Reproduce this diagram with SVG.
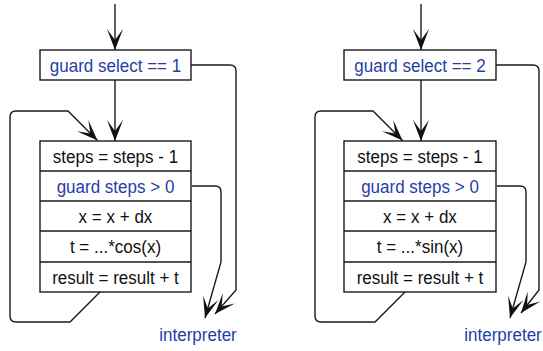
<svg xmlns="http://www.w3.org/2000/svg" width="543" height="351" viewBox="0 0 543 351">
  <style>
    .box { fill: #ffffff; stroke: #1a1a1a; stroke-width: 1.4; }
    .sep { stroke: #1a1a1a; stroke-width: 1.4; }
    .txt { font-family: "Liberation Sans", Arial, sans-serif; font-size: 18.5px; text-anchor: middle; fill: #111111; }
    .blue { fill: #1f3ea6; }
    .edge { fill: none; stroke: #1a1a1a; stroke-width: 1.4; marker-end: url(#arr); }
  </style>
  <defs>
    <marker id="arr" viewBox="-23 -9 24 18" refX="0" refY="0" markerWidth="24" markerHeight="18" markerUnits="userSpaceOnUse" orient="auto">
      <path d="M0,0 L-21,-8 L-10,0 L-21,8 Z" fill="#111111"/>
    </marker>
  </defs>

  <!-- left trace: select == 1 -->
  <g id="guard-select-1">
    <rect class="box" x="40" y="50" width="151" height="30"/>
    <text class="txt blue" transform="translate(115.5,71.5) scale(0.92,1)">guard select == 1</text>
  </g>
  <g id="loop-body-1">
    <rect class="box" x="40" y="141" width="151" height="151"/>
    <line class="sep" x1="40" y1="171" x2="191" y2="171"/>
    <line class="sep" x1="40" y1="201" x2="191" y2="201"/>
    <line class="sep" x1="40" y1="231" x2="191" y2="231"/>
    <line class="sep" x1="40" y1="262" x2="191" y2="262"/>
    <text class="txt" transform="translate(115.5,162.5) scale(0.92,1)">steps = steps - 1</text>
    <text class="txt blue" transform="translate(115.5,192.5) scale(0.92,1)">guard steps &gt; 0</text>
    <text class="txt" transform="translate(115.5,222.5) scale(0.92,1)">x = x + dx</text>
    <text class="txt" transform="translate(115.5,253) scale(0.92,1)">t = ...*cos(x)</text>
    <text class="txt" transform="translate(115.5,283.5) scale(0.92,1)">result = result + t</text>
  </g>
  <g id="interpreter-1">
    <text class="txt blue" transform="translate(198,341) scale(0.92,1)">interpreter</text>
  </g>

  <!-- right trace: select == 2 -->
  <g id="guard-select-2">
    <rect class="box" x="344" y="50" width="152" height="30"/>
    <text class="txt blue" transform="translate(420,71.5) scale(0.92,1)">guard select == 2</text>
  </g>
  <g id="loop-body-2">
    <rect class="box" x="344" y="141" width="152" height="151"/>
    <line class="sep" x1="344" y1="171" x2="496" y2="171"/>
    <line class="sep" x1="344" y1="201" x2="496" y2="201"/>
    <line class="sep" x1="344" y1="231" x2="496" y2="231"/>
    <line class="sep" x1="344" y1="262" x2="496" y2="262"/>
    <text class="txt" transform="translate(420,162.5) scale(0.92,1)">steps = steps - 1</text>
    <text class="txt blue" transform="translate(420,192.5) scale(0.92,1)">guard steps &gt; 0</text>
    <text class="txt" transform="translate(420,222.5) scale(0.92,1)">x = x + dx</text>
    <text class="txt" transform="translate(420,253) scale(0.92,1)">t = ...*sin(x)</text>
    <text class="txt" transform="translate(420,283.5) scale(0.92,1)">result = result + t</text>
  </g>
  <g id="interpreter-2">
    <text class="txt blue" transform="translate(503,341) scale(0.92,1)">interpreter</text>
  </g>

  <g id="connectors">
    <!-- left -->
    <path class="edge" d="M115,4 L115,50"/>
    <path class="edge" d="M115,80 L115,141"/>
    <path class="edge" d="M100,292 L70,322 L16,322 Q10,322 10,316 L10,117 Q10,111 16,111 L68,111 L97.5,140.5"/>
    <path class="edge" d="M191,65 L230,65 Q236,65 236,71 L236,290 L215,314"/>
    <path class="edge" d="M192,186 L215,186 Q221,186 221,192 L221,262 L205,318"/>
    <!-- right -->
    <path class="edge" d="M421,4 L421,50"/>
    <path class="edge" d="M421,80 L421,141"/>
    <path class="edge" d="M405,292 L375,322 L321,322 Q315,322 315,316 L315,117 Q315,111 321,111 L373,111 L402.5,140.5"/>
    <path class="edge" d="M496,65 L533,65 Q539,65 539,71 L539,290 L521,313"/>
    <path class="edge" d="M497,186 L520,186 Q526,186 526,192 L526,262 L510,318"/>
  </g>
</svg>
